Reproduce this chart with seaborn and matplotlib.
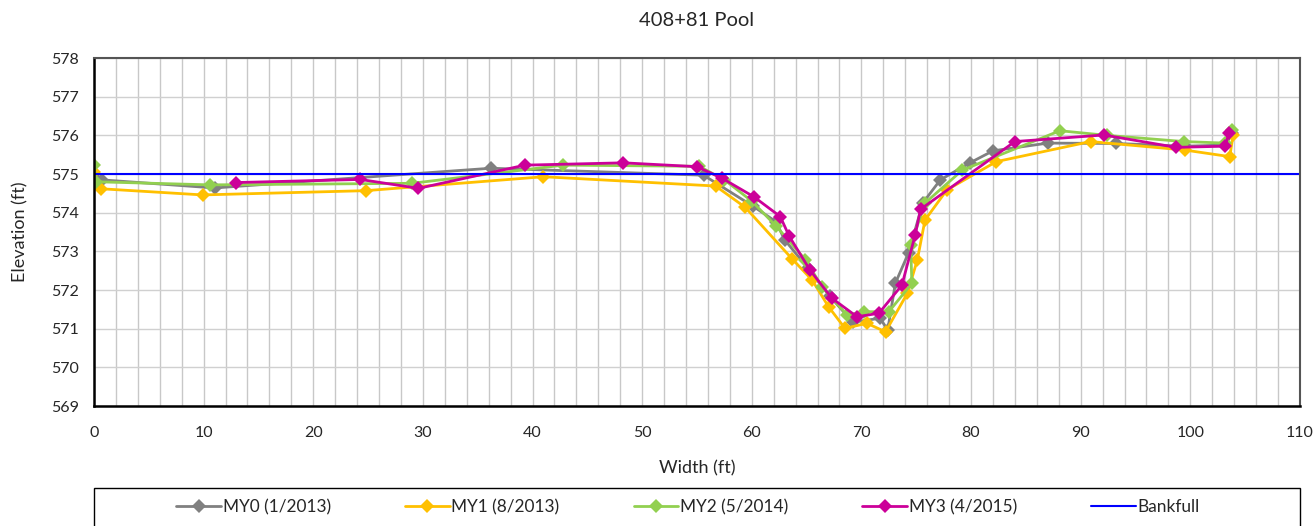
# 408+81 POOL CROSS SECTION

import pandas as pd
import numpy as np
import matplotlib
matplotlib.use("Agg")
import matplotlib.pyplot as plt
import seaborn as sns
from matplotlib.patches import Rectangle

# SURVEY DATA

my0_x = [0.0, 0.7, 11.0, 36.2, 55.6, 60.1, 62.2, 63.0, 65.1, 67.1, 69.2, 71.7, 72.4, 73.1, 74.3, 75.6,
         77.2, 79.9, 82.0, 87.0, 93.2, 99.5, 103.2, 103.8]
my0_y = [575.0, 574.85, 574.64, 575.15, 574.97, 574.17, 573.77, 573.3, 572.57, 571.85, 571.17, 571.27, 570.97,
         572.18, 572.96, 574.25, 574.85, 575.29, 575.6, 575.8, 575.79, 575.72, 575.75, 576.05]

my1_x = [0.0, 0.6, 9.9, 24.8, 41.0, 56.7, 59.4, 63.7, 65.5, 67.0, 68.5, 70.5, 72.2, 74.2, 75.1, 75.8,
         77.8, 82.3, 90.9, 99.5, 103.6, 103.9]
my1_y = [575.05, 574.62, 574.46, 574.57, 574.93, 574.69, 574.14, 572.8, 572.26, 571.57, 571.01, 571.14, 570.92,
         571.92, 572.78, 573.81, 574.59, 575.32, 575.84, 575.62, 575.45, 576.0]

my2_x = [0.0, 0.2, 10.6, 29.0, 42.8, 55.2, 57.5, 60.0, 62.2, 64.9, 66.4, 68.7, 70.2, 72.5, 74.6, 74.5,
         75.8, 79.2, 88.1, 92.4, 99.4, 103.2, 103.8]
my2_y = [575.23, 574.8, 574.72, 574.76, 575.23, 575.2, 574.85, 574.3, 573.66, 572.78, 572.09, 571.35, 571.44,
         571.44, 572.17, 573.16, 574.25, 575.1, 576.12, 576.0, 575.84, 575.8, 576.14]

my3_x = [13.0, 24.3, 29.6, 39.3, 48.3, 55.0, 57.3, 60.2, 62.6, 63.4, 65.3, 67.3, 69.6, 71.6, 73.7, 74.9,
         75.4, 84.0, 92.1, 98.7, 103.2, 103.5]
my3_y = [574.78, 574.86, 574.63, 575.23, 575.29, 575.19, 574.89, 574.41, 573.9, 573.4, 572.52, 571.79, 571.31,
         571.4, 572.13, 573.42, 574.09, 575.84, 576.01, 575.69, 575.72, 576.05]

bankfull_x = [0, 110]
bankfull_y = [575.0, 575.0]

labels = ["MY0 (1/2013)", "MY1 (8/2013)", "MY2 (5/2014)", "MY3 (4/2015)"]
colors = ["#808080", "#FFC000", "#92D050", "#CC0099"]

frames = []
for lab, xs, ys in zip(labels, [my0_x, my1_x, my2_x, my3_x], [my0_y, my1_y, my2_y, my3_y]):
    frames.append(pd.DataFrame({"Width": xs, "Elevation": ys, "Survey": lab}))
df = pd.concat(frames, ignore_index=True)

# PLOT

sns.set_style("white")
plt.rcParams["font.family"] = ["Lato", "DejaVu Sans"]

fig = plt.figure(figsize=(13.16, 5.26), dpi=100)
ax = fig.add_axes([0.0714, 0.228, 0.9164, 0.6617])

sns.lineplot(
    data=df, x="Width", y="Elevation", hue="Survey",
    palette=dict(zip(labels, colors)),
    marker="D", markersize=7, markeredgewidth=0,
    linewidth=2, sort=False, estimator=None, ax=ax
)
sns.lineplot(x=bankfull_x, y=bankfull_y, color="#0000FF", linewidth=1.5,
             label="Bankfull", ax=ax)

ax.set_xlim(0, 110)
ax.set_ylim(569, 578)
ax.set_xticks(np.arange(0, 111, 10))
ax.set_xticks(np.arange(0, 111, 2), minor=True)
ax.set_yticks(np.arange(569, 579, 1))
ax.grid(True, which="both", axis="x", color="#c8c8c8", linewidth=1)
ax.grid(True, which="major", axis="y", color="#d0d0d0", linewidth=1)
ax.set_axisbelow(True)

ax.tick_params(axis="both", which="major", direction="out", length=5, width=1,
               color="#888888", labelsize=11.5, pad=6)
ax.tick_params(axis="x", which="minor", length=0)
ax.tick_params(axis="x", pad=9)

for side in ["left", "bottom"]:
    ax.spines[side].set_color("black")
    ax.spines[side].set_linewidth(1.8)
for side in ["top", "right"]:
    ax.spines[side].set_color("#555555")
    ax.spines[side].set_linewidth(1.5)

ax.set_xlabel("Width (ft)", fontsize=13, labelpad=15)
ax.set_ylabel("Elevation (ft)", fontsize=13, labelpad=16)
ax.set_title("408+81 Pool", fontsize=14.5, pad=23)

handles, labs = ax.get_legend_handles_labels()
ax.get_legend().remove()

# legend box spans the plot width, cut by the bottom edge
fig.patches.append(Rectangle((0.0714, -0.05), 0.9164, 0.1222, transform=fig.transFigure,
                             fill=False, edgecolor="black", linewidth=1))
fig.legend(handles, labs, loc="center", ncol=5,
           bbox_to_anchor=(688 / 1316, 1 - 507 / 526),
           frameon=False, fontsize=12.4, handlelength=2.6,
           handletextpad=0.1, columnspacing=4.3)

fig.savefig("out.png", dpi=100)
